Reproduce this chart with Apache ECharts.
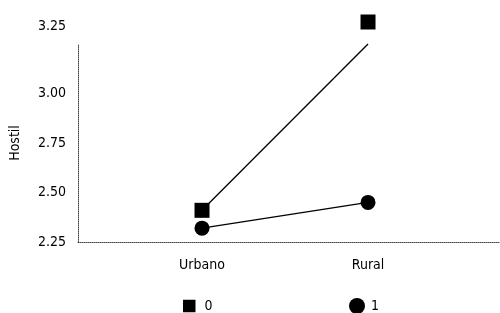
<!DOCTYPE html>
<html>
<head>
<meta charset="utf-8">
<script src="https://cdn.jsdelivr.net/npm/echarts@6/dist/echarts.min.js"></script>
<style>
  html, body { margin: 0; padding: 0; background: #fff; }
  #chart { width: 500px; height: 313px; }
</style>
</head>
<body>
<div id="chart"></div>
<script>
var categories = ['Urbano', 'Rural'];
var groupNames = ['0', '1'];
var group0 = [2.41, 3.25];
var group1 = [2.32, 2.45];
var yTicks = [2.25, 2.50, 2.75, 3.00, 3.25];

var font = '"DejaVu Sans Condensed", "Liberation Sans Narrow", sans-serif';

function toPoints(values) {
    var pts = [];
    for (var i = 0; i < values.length; i++) {
        pts.push([i, values[i]]);
    }
    return pts;
}

var pts0 = toPoints(group0);
// the top square sits above the plot edge in the original
pts0[1] = { value: pts0[1], symbolOffset: [0, -22] };

var option = {
    animation: false,
    textStyle: { fontFamily: font, color: '#000' },
    grid: { left: 78, right: 0, top: 44, bottom: 71, containLabel: false },
    xAxis: {
        type: 'value',
        min: -0.747,
        max: 1.795,
        splitLine: { show: false },
        axisTick: { show: false },
        axisLine: { show: true, onZero: false, lineStyle: { color: '#444', width: 1, type: [1, 1] } },
        axisLabel: {
            customValues: [0, 1],
            margin: 16,
            fontSize: 14,
            fontFamily: font,
            color: '#000',
            formatter: function (v) { return categories[Math.round(v)] || ''; }
        }
    },
    yAxis: {
        type: 'value',
        name: 'Hostil',
        nameLocation: 'middle',
        nameGap: 56,
        nameTextStyle: { fontSize: 14, fontFamily: font, color: '#000' },
        min: yTicks[0],
        max: yTicks[yTicks.length - 1],
        interval: 0.25,
        splitLine: { show: false },
        axisTick: { show: false },
        axisLine: { show: true, onZero: false, lineStyle: { color: '#444', width: 1, type: [1, 1] } },
        axisLabel: {
            margin: 12,
            fontSize: 14,
            fontFamily: font,
            color: '#000',
            formatter: function (v) {
                var s = v.toFixed(2);
                if (Math.abs(v - yTicks[yTicks.length - 1]) < 1e-9) {
                    return '{up|' + s + '}';
                }
                return s;
            },
            rich: {
                up: { fontSize: 14, fontFamily: font, color: '#000', padding: [0, 0, 36, 0] }
            }
        }
    },
    legend: [
        {
            left: 183, top: 299, padding: 0,
            data: [{ name: groupNames[0], icon: 'rect' }],
            itemWidth: 12.5, itemHeight: 12.5, itemGap: 10,
            textStyle: { fontSize: 14, fontFamily: font, color: '#000', padding: [2, 0, 0, 4] }
        },
        {
            left: 349, top: 298, padding: 0,
            data: [{ name: groupNames[1], icon: 'circle' }],
            itemWidth: 16, itemHeight: 16, itemGap: 10,
            textStyle: { fontSize: 14, fontFamily: font, color: '#000', padding: [2, 0, 0, 1] }
        }
    ],
    series: [
        {
            name: groupNames[0],
            type: 'line',
            data: pts0,
            symbol: 'rect',
            symbolSize: 15,
            showAllSymbol: true,
            clip: false,
            lineStyle: { color: '#000', width: 1.3 },
            itemStyle: { color: '#000' }
        },
        {
            name: groupNames[1],
            type: 'line',
            data: toPoints(group1),
            symbol: 'circle',
            symbolSize: 15,
            showAllSymbol: true,
            clip: false,
            lineStyle: { color: '#000', width: 1.3 },
            itemStyle: { color: '#000' }
        }
    ]
};

echarts.init(document.getElementById('chart')).setOption(option);
</script>
</body>
</html>
